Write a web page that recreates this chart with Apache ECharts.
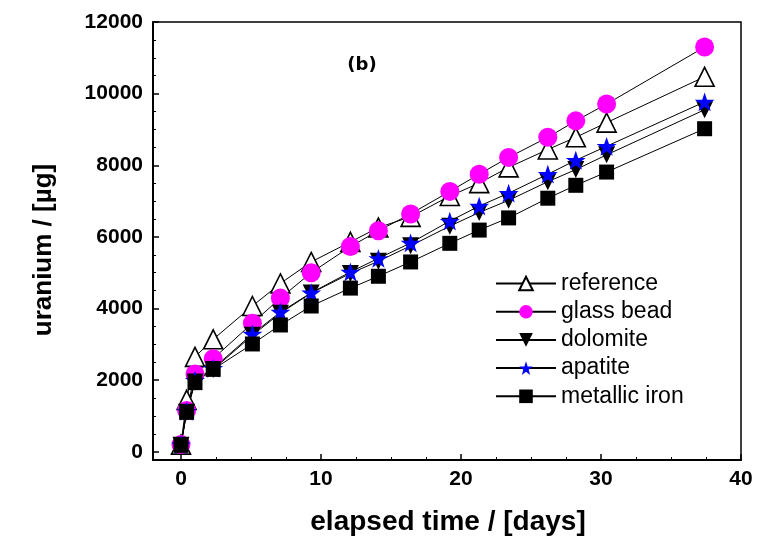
<!DOCTYPE html>
<html>
<head>
<meta charset="utf-8">
<script src="https://cdn.jsdelivr.net/npm/echarts@6/dist/echarts.min.js"></script>
<style>html,body{margin:0;padding:0;background:#fff}#c{width:758px;height:545px}</style>
</head>
<body>
<div id="c"></div>
<script>
const times = [0, 0.4, 1, 2.3, 5.1, 7.1, 9.3, 12.1, 14.1, 16.4, 19.2, 21.3, 23.4, 26.2, 28.2, 30.4, 37.4];
const reference = [200, 1450, 2650, 3140, 4070, 4700, 5300, 5860, 6260, 6560, 7140, 7500, 7940, 8440, 8780, 9190, 10470];
const glassBead = [200, 1150, 2170, 2600, 3590, 4290, 5000, 5730, 6170, 6640, 7270, 7750, 8220, 8780, 9240, 9710, 11300];
const dolomite = [180, 1100, 1950, 2300, 3250, 3870, 4430, 4980, 5320, 5750, 6300, 6680, 7020, 7540, 7880, 8290, 9550];
const apatite = [200, 1130, 2000, 2330, 3290, 3900, 4440, 5020, 5400, 5830, 6440, 6860, 7220, 7750, 8140, 8530, 9770];
const metallicIron = [180, 1100, 1930, 2300, 3010, 3540, 4070, 4570, 4900, 5300, 5820, 6190, 6530, 7080, 7440, 7810, 9020];
const seriesNames = ['reference', 'glass bead', 'dolomite', 'apatite', 'metallic iron'];
const xTicks = [0, 10, 20, 30, 40];
const xMinor = [2.5, 5, 7.5, 12.5, 15, 17.5, 22.5, 25, 27.5, 32.5, 35, 37.5];
const yTicks = [0, 2000, 4000, 6000, 8000, 10000, 12000];
const yMinor = [500, 1000, 1500, 2500, 3000, 3500, 4500, 5000, 5500, 6500, 7000, 7500, 8500, 9000, 9500, 10500, 11000, 11500];

const pair = arr => times.map((t, i) => [t, arr[i]]);
const STAR = 'path://M50,0 L61.8,35.1 L98.9,35.1 L68.9,56.8 L80.3,91.9 L50,70.2 L19.7,91.9 L31.1,56.8 L1.1,35.1 L38.2,35.1 Z';
const FONT = 'Liberation Sans';

const chart = echarts.init(document.getElementById('c'), null, {renderer: 'canvas'});
const baseX = {type: 'value', min: -2, max: 40, gridIndex: 0, splitLine: {show: false}};
const baseY = {type: 'value', min: -230, max: 12000, gridIndex: 0, splitLine: {show: false}};
const lineSeries = (name, data, extra) => Object.assign({
  name, type: 'line', data: pair(data), xAxisIndex: 0, yAxisIndex: 0,
  lineStyle: {color: '#000', width: 1}, animation: false, showSymbol: true
}, extra);
const plain = v => String(v);

chart.setOption({
  backgroundColor: '#fff',
  animation: false,
  grid: {left: 153, right: 17, top: 22, bottom: 85, show: true, borderColor: '#000', borderWidth: 1.5, backgroundColor: 'transparent'},
  xAxis: [
    Object.assign({}, baseX, {
      position: 'bottom',
      axisLine: {show: true, onZero: false, lineStyle: {color: '#000', width: 2}},
      axisTick: {show: true, inside: true, length: 6, customValues: xTicks, lineStyle: {color: '#000', width: 1.5}},
      axisLabel: {show: true, customValues: xTicks, formatter: plain, margin: 9, color: '#000', fontFamily: FONT, fontWeight: 'bold', fontSize: 21}
    }),
    Object.assign({}, baseX, {
      position: 'bottom',
      axisLine: {show: false, onZero: false},
      axisTick: {show: true, inside: true, length: 3, customValues: xMinor, lineStyle: {color: '#000', width: 1}},
      axisLabel: {show: false}
    })
  ],
  yAxis: [
    Object.assign({}, baseY, {
      position: 'left',
      axisLine: {show: true, onZero: false, lineStyle: {color: '#000', width: 2}},
      axisTick: {show: true, inside: true, length: 6, customValues: yTicks, lineStyle: {color: '#000', width: 1.5}},
      axisLabel: {show: true, customValues: yTicks, formatter: plain, margin: 10, color: '#000', fontFamily: FONT, fontWeight: 'bold', fontSize: 21}
    }),
    Object.assign({}, baseY, {
      position: 'left',
      axisLine: {show: false, onZero: false},
      axisTick: {show: true, inside: true, length: 3, customValues: yMinor, lineStyle: {color: '#000', width: 1}},
      axisLabel: {show: false}
    })
  ],
  legend: {
    data: seriesNames,
    orient: 'vertical', left: 490, top: 267, itemGap: 5.2,
    itemWidth: 60, itemHeight: 17,
    textStyle: {color: '#000', fontFamily: FONT, fontSize: 23, padding: [0, 0, 0, 0]}
  },
  graphic: [
    {type: 'text', x: 362, y: 65,
     style: {text: '(b)', fill: '#000', font: 'bold 18px "DejaVu Sans"', textAlign: 'center', textVerticalAlign: 'middle'}},
    {type: 'text', x: 448, y: 522,
     style: {text: 'elapsed time / [days]', fill: '#000', font: 'bold 28px "Liberation Sans"', textAlign: 'center', textVerticalAlign: 'middle'}},
    {type: 'text', x: 44, y: 250, rotation: Math.PI / 2,
     style: {text: 'uranium / [\u00b5g]', fill: '#000', font: 'bold 26px "Liberation Sans"', textAlign: 'center', textVerticalAlign: 'middle'}}
  ],
  series: [
    lineSeries('reference', reference, {symbol: 'triangle', symbolSize: 19,
      itemStyle: {color: '#fff', borderColor: '#000', borderWidth: 1.6}}),
    {name: 'refdot', type: 'scatter', data: pair(reference), symbol: 'rect', symbolSize: 2, symbolOffset: [0, 3],
      itemStyle: {color: '#000'}, silent: true, animation: false},
    lineSeries('glass bead', glassBead, {symbol: 'circle', symbolSize: 19,
      itemStyle: {color: '#ff00ff', borderWidth: 0}}),
    lineSeries('dolomite', dolomite, {symbol: 'triangle', symbolRotate: 180, symbolSize: 17,
      itemStyle: {color: '#000', borderWidth: 0}}),
    lineSeries('apatite', apatite, {symbol: STAR, symbolSize: 20, symbolKeepAspect: true,
      itemStyle: {color: '#0000ff', borderWidth: 0}}),
    lineSeries('metallic iron', metallicIron, {symbol: 'rect', symbolSize: 15,
      itemStyle: {color: '#000', borderWidth: 0}})
  ]
});
</script>
</body>
</html>
